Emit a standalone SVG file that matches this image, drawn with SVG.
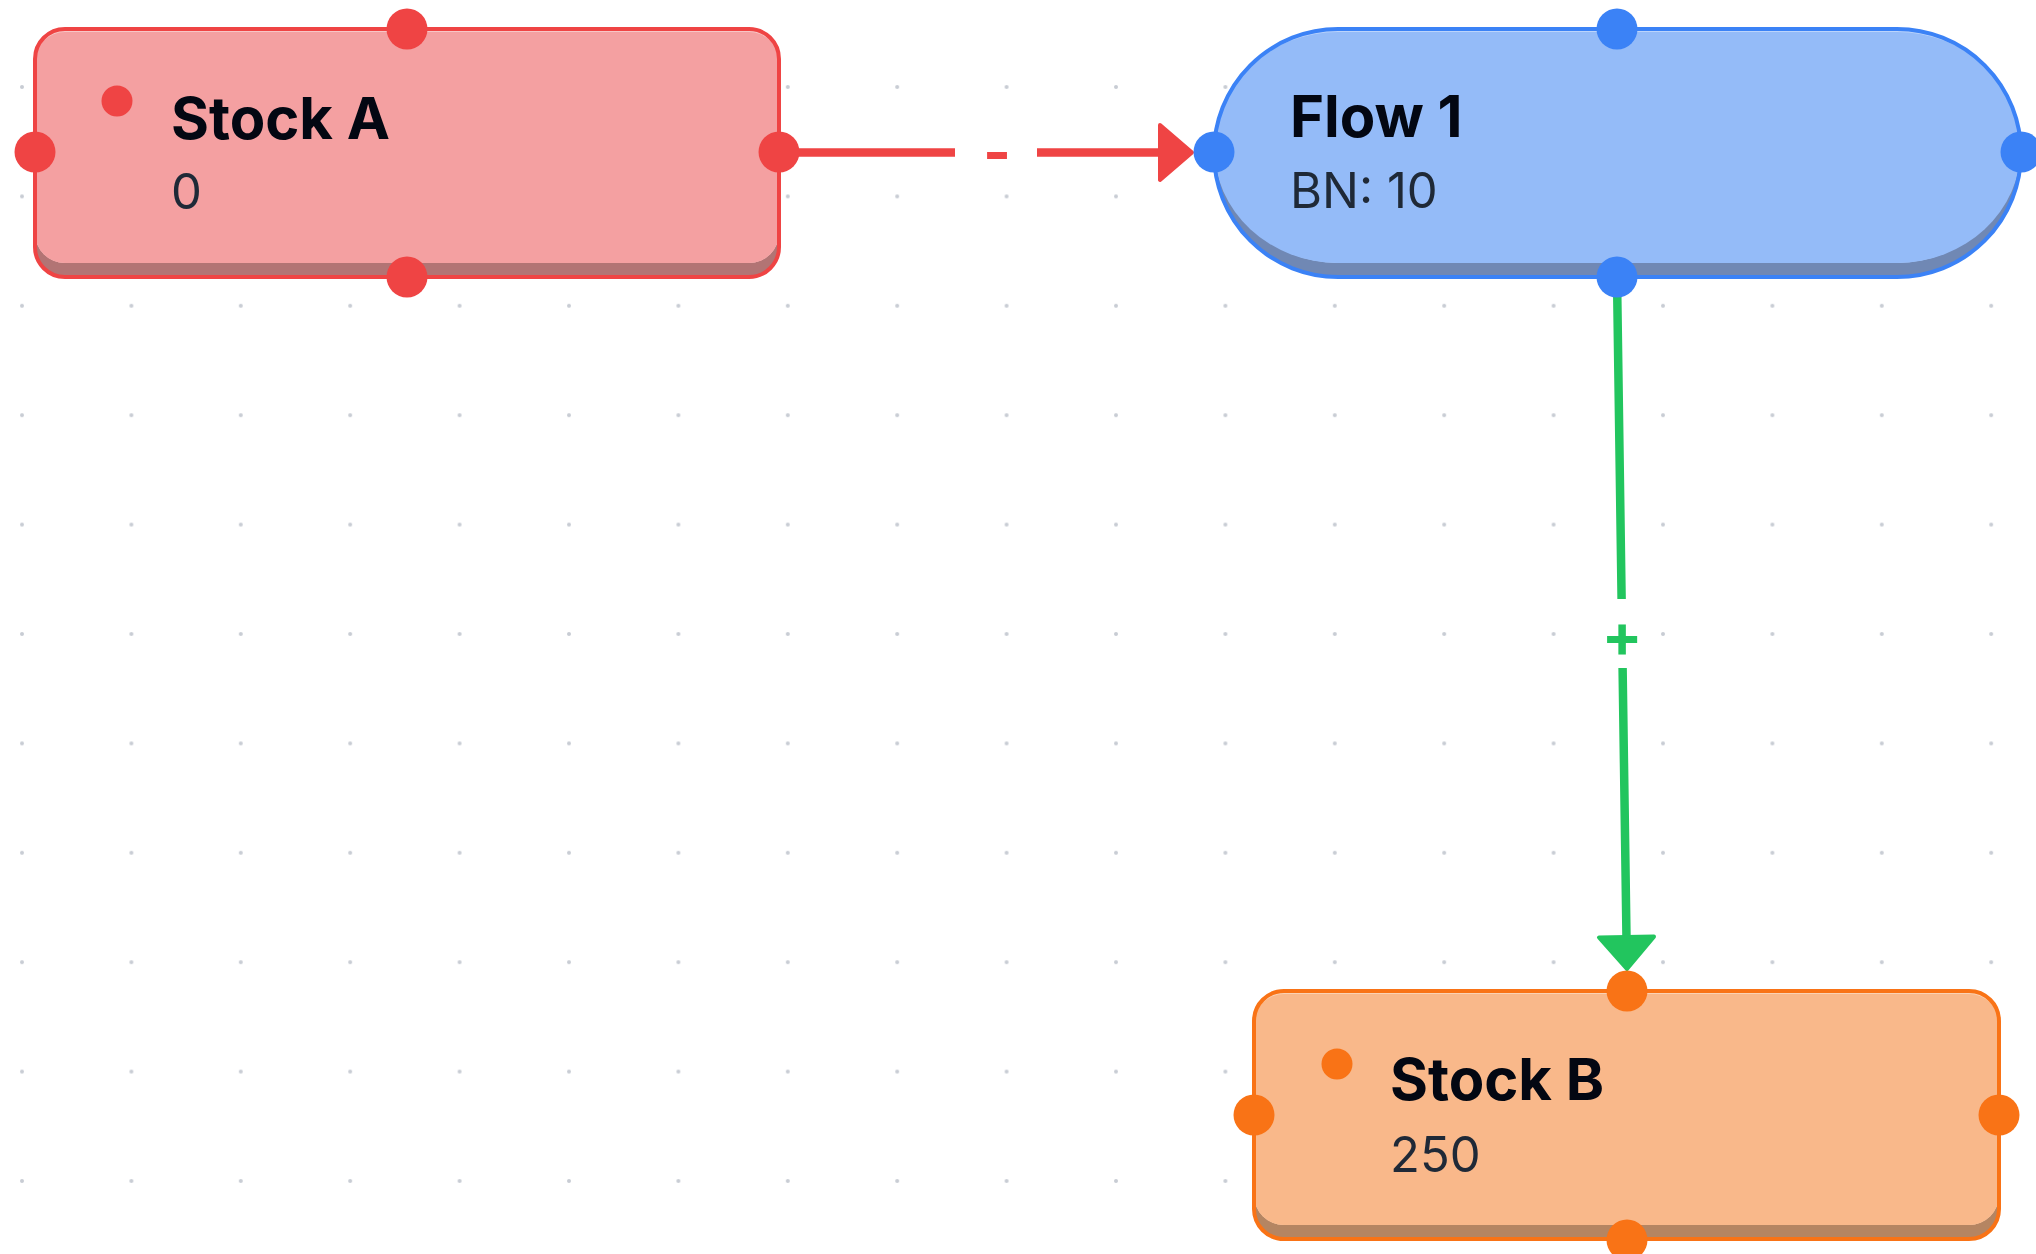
<svg xmlns="http://www.w3.org/2000/svg" width="2036" height="1254" viewBox="0 0 2036 1254">
<style>
.title{font-family:Inter,"Liberation Sans",sans-serif;font-weight:700;font-size:58px;fill:#030712}
.value{font-family:Inter,"Liberation Sans",sans-serif;font-weight:400;font-size:49px;fill:#1f2937}
.lbl{font-family:Inter,"Liberation Sans",sans-serif;font-weight:700;font-size:60px;text-anchor:middle}
.conn{fill:none;stroke-width:8.5;stroke-linecap:butt}
.red .h{fill:#ef4444}
.blue .h{fill:#3b82f6}
.orange .h{fill:#f97316}
</style>
<defs>
<pattern id="grid" patternUnits="userSpaceOnUse" x="-32.7" y="32.3" width="109.4" height="109.4">
<circle cx="54.7" cy="54.7" r="2" fill="#c8ccd4"/>
</pattern>
<marker id="arrRed" markerUnits="userSpaceOnUse" markerWidth="40" markerHeight="62" refX="3" refY="29.5" orient="auto" overflow="visible">
<path d="M2,2 L34,29.5 L2,57 Z" fill="#ef4444" stroke="#ef4444" stroke-width="4" stroke-linejoin="round"/>
</marker>
<marker id="arrGreen" markerUnits="userSpaceOnUse" markerWidth="40" markerHeight="62" refX="3" refY="29.5" orient="auto" overflow="visible">
<path d="M2,2 L34,29.5 L2,57 Z" fill="#22c55e" stroke="#22c55e" stroke-width="4" stroke-linejoin="round"/>
</marker>
<clipPath id="clipA"><rect x="35" y="29" width="744" height="248" rx="30"/></clipPath>
<clipPath id="clipF"><rect x="1214" y="29" width="807" height="248" rx="124"/></clipPath>
<clipPath id="clipB"><rect x="1254" y="991" width="745" height="248" rx="30"/></clipPath>
</defs>
<rect width="2036" height="1254" fill="#ffffff"/>
<rect width="2036" height="1254" fill="url(#grid)"/>

<g id="connectors">
<g id="edge-stockA-flow1">
<path class="conn" stroke="#ef4444" d="M779,152.5 H955 M1037,152.5 H1161" marker-end="url(#arrRed)"/>
<text class="lbl" x="997" y="173" fill="#ef4444">-</text>
</g>
<g id="edge-flow1-stockB">
<path class="conn" stroke="#22c55e" d="M1617,277 L1621.6,599 M1622.6,668 L1626.5,938" marker-end="url(#arrGreen)"/>
<text class="lbl" x="1622" y="657" fill="#22c55e">+</text>
</g>
</g>

<g id="stock-a" class="red">
<g clip-path="url(#clipA)">
<rect x="35" y="29" width="744" height="248" fill="#b27474"/>
<rect x="35" y="15" width="744" height="248" rx="30" fill="#f8c6c6"/>
<rect x="35" y="32" width="744" height="231" rx="30" fill="#f4a0a1"/>
</g>
<rect x="35" y="29" width="744" height="248" rx="30" fill="none" stroke="#ef4444" stroke-width="4"/>
<circle cx="117" cy="101" r="15.5" fill="#ef4444"/>
<text class="title" x="171" y="139">Stock A</text>
<text class="value" x="171" y="209">0</text>
<circle class="h" cx="407" cy="29" r="20.5"/>
<circle class="h" cx="407" cy="277" r="20.5"/>
<circle class="h" cx="35" cy="152" r="20.5"/>
<circle class="h" cx="779" cy="152" r="20.5"/>
</g>

<g id="flow-1" class="blue">
<g clip-path="url(#clipF)">
<rect x="1214" y="29" width="807" height="248" fill="#7088b4"/>
<rect x="1214" y="15" width="807" height="248" rx="124" fill="#bcd4fb"/>
<rect x="1214" y="32" width="807" height="231" rx="124" fill="#94bbf8"/>
</g>
<rect x="1214" y="29" width="807" height="248" rx="124" fill="none" stroke="#3b82f6" stroke-width="4"/>
<text class="title" x="1290" y="137">Flow 1</text>
<text class="value" x="1290" y="208">BN: 10</text>
<circle class="h" cx="1617" cy="29" r="20.5"/>
<circle class="h" cx="1617" cy="277" r="20.5"/>
<circle class="h" cx="1214" cy="152" r="20.5"/>
<circle class="h" cx="2021" cy="152" r="20.5"/>
</g>

<g id="stock-b" class="orange">
<g clip-path="url(#clipB)">
<rect x="1254" y="991" width="745" height="248" fill="#b58562"/>
<rect x="1254" y="977" width="745" height="248" rx="30" fill="#fbd2b4"/>
<rect x="1254" y="994" width="745" height="231" rx="30" fill="#f9b88a"/>
</g>
<rect x="1254" y="991" width="745" height="248" rx="30" fill="none" stroke="#f97316" stroke-width="4"/>
<circle cx="1337" cy="1064" r="15.5" fill="#f97316"/>
<text class="title" x="1390" y="1100">Stock B</text>
<text class="value" x="1390" y="1172">250</text>
<circle class="h" cx="1627" cy="991" r="20.5"/>
<circle class="h" cx="1627" cy="1240" r="20.5"/>
<circle class="h" cx="1254" cy="1115" r="20.5"/>
<circle class="h" cx="1999" cy="1115" r="20.5"/>
</g>
</svg>
